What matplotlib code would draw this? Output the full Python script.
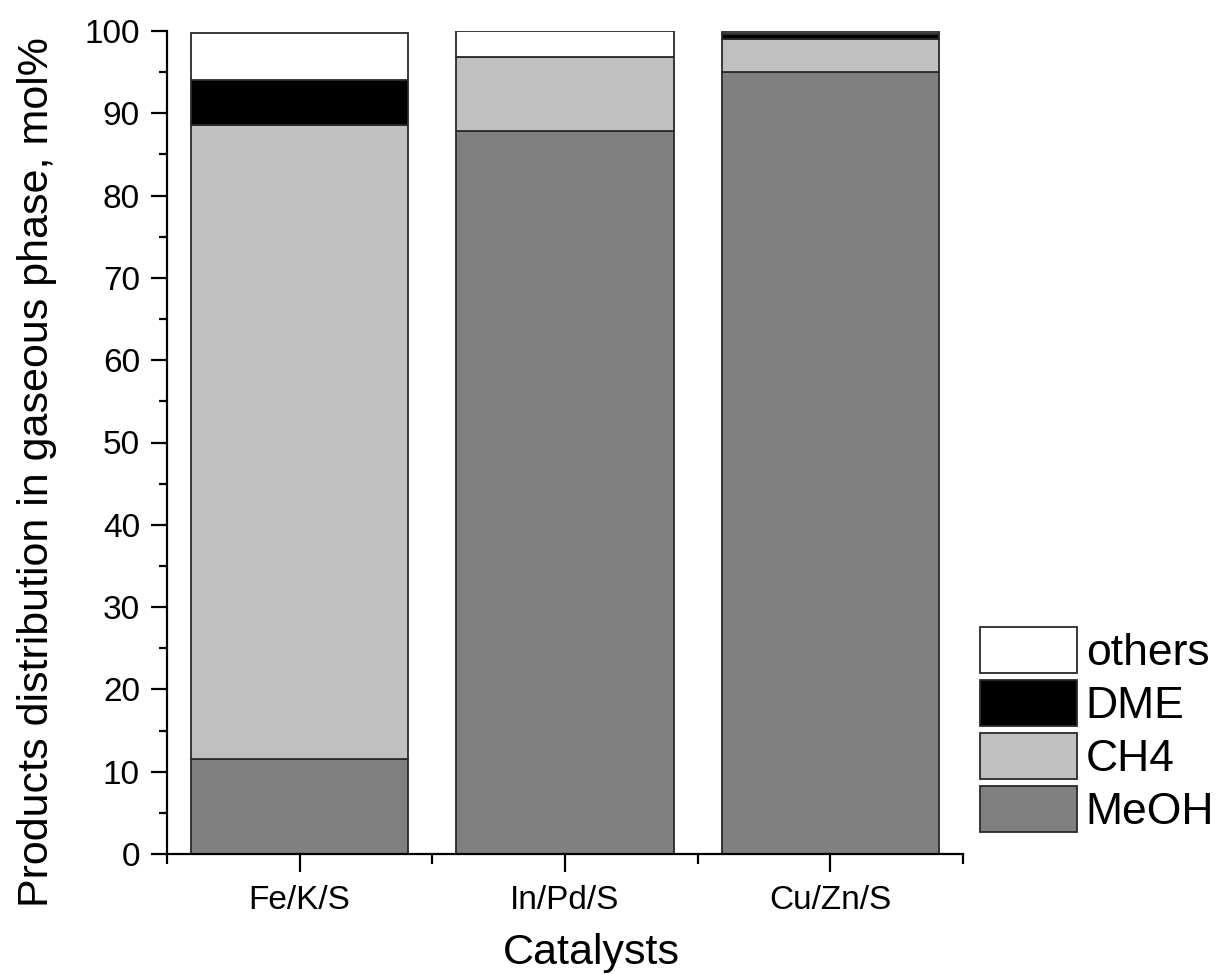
import numpy as np
import matplotlib
matplotlib.use("Agg")
import matplotlib.pyplot as plt
from matplotlib.ticker import MultipleLocator, FixedLocator

plt.rcParams.update({
    "font.family": ["Liberation Sans", "DejaVu Sans"],
})

# Data (mol%)
catalysts = ["Fe/K/S", "In/Pd/S", "Cu/Zn/S"]
meoh = [11.6, 87.9, 95.0]
ch4 = [77.0, 8.9, 4.0]
dme = [5.4, 0.0, 0.6]
others = [5.8, 3.2, 0.3]

series = [("MeOH", meoh, "#808080"),
          ("CH4", ch4, "#c0c0c0"),
          ("DME", dme, "#000000"),
          ("others", others, "#ffffff")]

fig = plt.figure(figsize=(12.17, 9.74), dpi=100)
ax = fig.add_axes([167 / 1217, 1 - 854 / 974, (963 - 167) / 1217, (854 - 31) / 974])

x = np.arange(1, len(catalysts) + 1)
bottom = np.zeros(len(catalysts))
handles = []
for name, vals, col in series:
    vals = np.array(vals)
    bars = ax.bar(x, vals, width=0.82, bottom=bottom, color=col,
                  edgecolor="#2a2a2a", linewidth=1.3, label=name)
    handles.append(bars)
    bottom += vals

ax.set_xlim(0.5, 3.5)
ax.set_ylim(0, 100)
ax.set_xticks(x)
ax.set_xticklabels(catalysts)
ax.xaxis.set_minor_locator(FixedLocator([0.5, 1.5, 2.5, 3.5]))
ax.yaxis.set_major_locator(MultipleLocator(10))
ax.yaxis.set_minor_locator(MultipleLocator(5))

for side in ["top", "right"]:
    ax.spines[side].set_visible(False)
for side in ["left", "bottom"]:
    ax.spines[side].set_linewidth(1.6)

ax.tick_params(axis="x", which="major", length=13, width=1.6, labelsize=24, pad=9)
ax.tick_params(axis="x", which="minor", length=7, width=1.6)
ax.tick_params(axis="y", which="major", length=11.5, width=1.6, labelsize=24, pad=8)
ax.tick_params(axis="y", which="minor", length=6, width=1.6)

ax.set_xlabel("Catalysts", fontsize=31)
ax.xaxis.set_label_coords((591 - 167) / 796, (854 - 933) / 823)
ax.set_ylabel("Products distribution in gaseous phase, mol%", fontsize=31)
ax.yaxis.set_label_coords((57 - 167) / 796, (854 - 472) / 823)

leg = fig.legend(handles[::-1], [s[0] for s in series][::-1],
                 loc="upper left", bbox_to_anchor=(980 / 1217, 1 - 627 / 974),
                 frameon=False, fontsize=32, borderpad=0, borderaxespad=0,
                 handlelength=2.18, handleheight=1.21, labelspacing=0.14,
                 handletextpad=0.2)

fig.savefig("out.png", dpi=100)
